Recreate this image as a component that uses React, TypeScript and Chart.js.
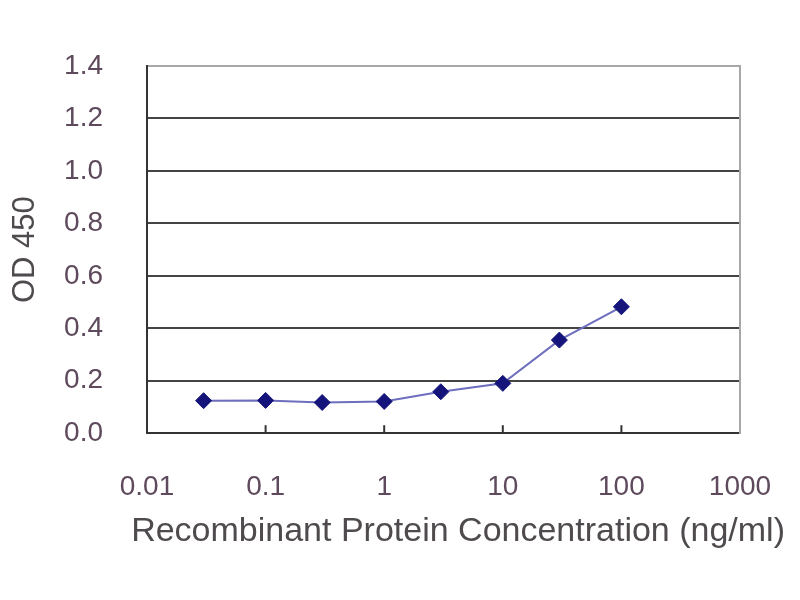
import React, { useEffect, useRef } from "react";
import { Chart, registerables } from "chart.js";

Chart.register(...registerables);

const concentrations = [0.03, 0.1, 0.3, 1, 3, 10, 30, 100];
const odValues = [0.124, 0.125, 0.117, 0.121, 0.158, 0.19, 0.355, 0.482];
const xTickValues = [0.01, 0.1, 1, 10, 100, 1000];
const xTickLabels = ["0.01", "0.1", "1", "10", "100", "1000"];
const yTickValues = [0, 0.2, 0.4, 0.6, 0.8, 1.0, 1.2, 1.4];
const yTickLabels = ["0.0", "0.2", "0.4", "0.6", "0.8", "1.0", "1.2", "1.4"];
const xTitle = "Recombinant Protein Concentration (ng/ml)";
const yTitle = "OD 450";

const FONT = "'Liberation Sans', Arial, sans-serif";
const TICK_COLOR = "#5e4a5c";
const TITLE_COLOR = "#4e4a4e";

const innerTicks = {
  id: "innerTicks",
  afterDatasetsDraw(chart: any) {
    const xs = chart.scales.x;
    const ctx = chart.ctx;
    const area = chart.chartArea;
    ctx.save();
    ctx.strokeStyle = "#333333";
    ctx.lineWidth = 2;
    xTickValues.forEach((v) => {
      const px = xs.getPixelForValue(v);
      if (px <= area.left + 1 || px >= area.right - 1) return;
      ctx.beginPath();
      ctx.moveTo(px, area.bottom);
      ctx.lineTo(px, area.bottom - 8);
      ctx.stroke();
    });
    ctx.restore();
  },
};

export default function App() {
  const ref = useRef<HTMLCanvasElement | null>(null);
  useEffect(() => {
    if (!ref.current) return;
    const chart = new Chart(ref.current, {
      type: "line",
      data: {
        datasets: [
          {
            data: concentrations.map((c, i) => ({ x: c, y: odValues[i] })),
            borderColor: "#6e6ebe",
            borderWidth: 2,
            pointStyle: "rectRot",
            pointRadius: 8,
            pointBackgroundColor: "#14147a",
            pointBorderColor: "#14147a",
            pointBorderWidth: 1,
            tension: 0,
          },
        ],
      },
      options: {
        animation: false,
        responsive: false,
        events: [],
        layout: { padding: { top: 66, right: 15, bottom: 0, left: 0 } },
        plugins: {
          legend: { display: false },
          tooltip: { enabled: false },
          title: {
            display: true,
            position: "bottom",
            align: "end",
            text: xTitle,
            color: TITLE_COLOR,
            font: { family: FONT, size: 34, weight: "normal", lineHeight: 1.2 },
            padding: { top: 0, bottom: 48 },
          },
        },
        scales: {
          x: {
            type: "logarithmic",
            min: 0.01,
            max: 1000,
            afterFit: (axis: any) => {
              axis.height = 78;
              axis.paddingLeft = 0;
              axis.paddingRight = 0;
            },
            afterBuildTicks: (axis: any) => {
              axis.ticks = xTickValues.map((v) => ({ value: v }));
            },
            ticks: {
              autoSkip: false,
              maxRotation: 0,
              padding: 37,
              color: TICK_COLOR,
              font: { family: FONT, size: 28 },
              callback: (value: any) => {
                const i = xTickValues.indexOf(Number(value));
                return i >= 0 ? xTickLabels[i] : "";
              },
            },
            grid: { display: false, drawTicks: false },
            border: { display: true, color: "#333333", width: 2 },
          },
          y: {
            type: "linear",
            position: "left",
            min: 0,
            max: 1.4,
            afterFit: (axis: any) => {
              axis.width = 147;
            },
            afterBuildTicks: (axis: any) => {
              axis.ticks = yTickValues.map((v) => ({ value: v }));
            },
            ticks: {
              padding: 44,
              color: TICK_COLOR,
              font: { family: FONT, size: 28 },
              callback: (value: any) => {
                const i = yTickValues.findIndex((v) => Math.abs(v - Number(value)) < 1e-6);
                return i >= 0 ? yTickLabels[i] : "";
              },
            },
            grid: {
              drawTicks: false,
              lineWidth: 2,
              color: (ctx: any) =>
                ctx.tick && Math.abs(ctx.tick.value - 1.4) < 1e-6 ? "#a8a8a8" : "#444444",
            },
            border: { display: true, color: "#333333", width: 2 },
            title: {
              display: true,
              text: yTitle,
              color: TITLE_COLOR,
              font: { family: FONT, size: 31 },
              padding: { top: 7, bottom: 0 },
            },
          },
          yRight: {
            type: "linear",
            position: "right",
            min: 0,
            max: 1.4,
            afterFit: (axis: any) => {
              axis.width = 45;
            },
            ticks: { display: false },
            grid: { drawOnChartArea: false, drawTicks: false },
            border: { display: true, color: "#a8a8a8", width: 2 },
          },
        },
      },
      plugins: [innerTicks],
    });
    return () => chart.destroy();
  }, []);
  return (
    <div style={{ position: "absolute", left: 0, top: 0, width: 800, height: 600, background: "#ffffff" }}>
      <canvas ref={ref} width={800} height={600} />
    </div>
  );
}
